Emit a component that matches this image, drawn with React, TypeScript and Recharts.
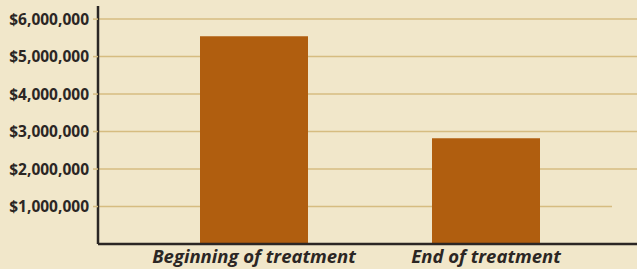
import React from "react";
import { BarChart, Bar, XAxis, YAxis, CartesianGrid } from "recharts";

const categories = ["Beginning of treatment", "End of treatment"];
const costs = [5540000, 2820000];
const yTicks = [1000000, 2000000, 3000000, 4000000, 5000000, 6000000];

const data = categories.map((name, i) => ({ name, cost: costs[i] }));

const BG = "#f1e7ca";
const BAR = "#b05e0f";
const GRID = "#d6bc80";
const INK = "#2b2624";

const formatMoney = (v: number) => "$" + v.toLocaleString("en-US");

// lowest gridline stops short of the right edge in the original
const GridLine = (props: any) => {
  const { x1, x2, y1, y2, index } = props;
  const end = index === 0 ? x2 - 25 : x2;
  return <line x1={x1} x2={end} y1={y1} y2={y2} stroke={GRID} strokeWidth={1.5} />;
};

export default function App() {
  return (
    <div
      style={{
        position: "absolute",
        left: 0,
        top: 0,
        width: 637,
        height: 269,
        background: BG,
      }}
    >
      <BarChart
        width={637}
        height={269}
        data={data}
        margin={{ top: 6, right: 0, left: 0, bottom: 0 }}
      >
        <CartesianGrid vertical={false} horizontal={GridLine} horizontalValues={yTicks} />
        <XAxis
          dataKey="name"
          height={25}
          padding={{ left: 40, right: 35 }}
          axisLine={{ stroke: INK, strokeWidth: 2.5 }}
          tickLine={false}
          tickMargin={0}
          tick={{
            fill: INK,
            fontFamily: "Open Sans",
            fontWeight: 700,
            fontStyle: "italic",
            fontSize: 18.5,
          }}
        />
        <YAxis
          width={98}
          domain={[0, 6350000]}
          ticks={yTicks}
          tickFormatter={formatMoney}
          axisLine={{ stroke: INK, strokeWidth: 2.5 }}
          tickLine={{ stroke: GRID, strokeWidth: 1.5 }}
          tickSize={5}
          tickMargin={4}
          tick={{
            fill: INK,
            fontFamily: "Open Sans",
            fontWeight: 700,
            fontSize: 15.5,
          }}
        />
        <Bar dataKey="cost" fill={BAR} barSize={108} isAnimationActive={false} />
      </BarChart>
    </div>
  );
}
